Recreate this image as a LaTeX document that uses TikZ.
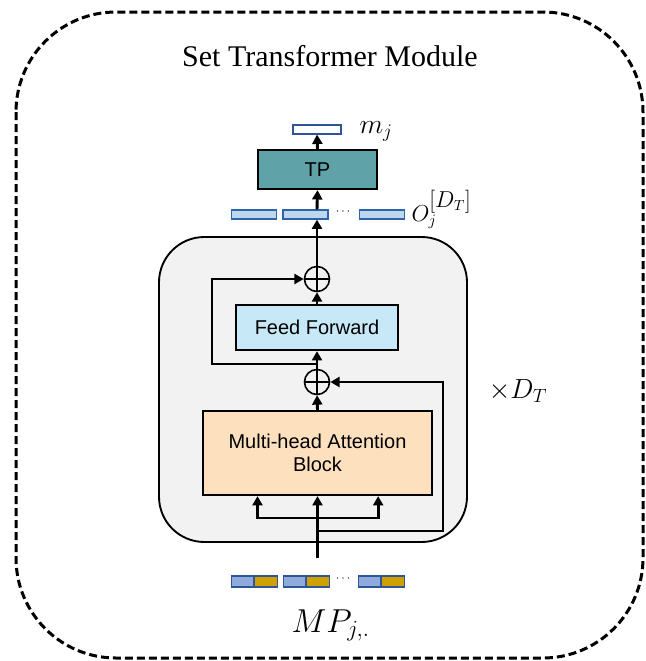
\documentclass[tikz,border=0pt]{standalone}
\usepackage{fontspec}
\setmainfont{Liberation Serif}
\setsansfont{Liberation Sans}
\usetikzlibrary{arrows.meta,positioning}

\definecolor{tpteal}{RGB}{95,163,168}
\definecolor{fffill}{RGB}{198,232,247}
\definecolor{mhafill}{RGB}{253,225,190}
\definecolor{layerfill}{RGB}{242,242,242}
\definecolor{outfill}{RGB}{189,215,238}
\definecolor{outline}{RGB}{46,100,170}
\definecolor{vecline}{RGB}{47,85,151}
\definecolor{inblue}{RGB}{143,170,220}
\definecolor{ingold}{RGB}{207,160,0}

\tikzset{every picture/.style={line width=0.75pt}}
\tikzset{
  flow/.style={line width=2.2pt, -{Triangle[length=7pt,width=7.5pt]}},
  blockbox/.style={draw, line width=1.7pt, align=center, inner sep=0pt,
    font=\sffamily\fontsize{15}{17.5}\selectfont},
  sumnode/.style={circle, draw, line width=1.2pt, minimum size=18.75pt, inner sep=0pt,
    path picture={\draw[line width=1.2pt]
      (path picture bounding box.north) -- (path picture bounding box.south)
      (path picture bounding box.west) -- (path picture bounding box.east);}},
  outvec/.style={draw=outline, fill=outfill, line width=0.9pt,
    minimum width=33.75pt, minimum height=6.75pt, inner sep=0pt},
  inhalf/.style={draw=vecline, line width=0.9pt, minimum height=8.25pt, inner sep=0pt}
}

\begin{document}
\begin{tikzpicture}[x=0.75pt,y=0.75pt,yscale=-1,xscale=1]
        \useasboundingbox (0,0) rectangle (646,661);

        %Shape: Rounded Rect, module frame
        \draw [line width=2.25pt, dash pattern=on 6pt off 3pt, rounded corners=75pt] (16,12) rectangle (643,658);
        % Text Node
        \node (title) at (330,56) {\fontsize{22.5}{27}\selectfont Set Transformer Module};

        %Shape: Rounded Rect, repeated layer
        \draw [fill=layerfill, line width=1.4pt, rounded corners=34pt] (159,237) rectangle (467,542);
        % Text Node
        \node [anchor=west] (repeat) at (484,391) {\fontsize{20}{24}\selectfont $\times D_T$};

        % Blocks
        \node [blockbox, fill=mhafill, minimum width=171.75pt, minimum height=63pt] (mha) at (317.5,453) {Multi-head Attention\\Block};
        \node [sumnode] (lowsum) at (317,382) {};
        \node [blockbox, fill=fffill, minimum width=121.5pt, minimum height=33.75pt] (ff) at (317,327.5) {Feed Forward};
        \node [sumnode] (upsum) at (317,279) {};
        \node [blockbox, fill=tpteal, minimum width=89.25pt, minimum height=29.25pt] (tp) at (317.5,169.5) {TP};

        % Vectors
        \node [inhalf, draw=vecline, fill=white, minimum width=36pt, minimum height=6.75pt] (mvec) at (317,129.5) {};
        \foreach \px [count=\i] in {254,305.5,382}
          \node [outvec] (o\i) at (\px,214.5) {};
        \foreach \px [count=\i] in {231,283,358} {
          \node [inhalf, fill=inblue, minimum width=16.5pt, anchor=west] (in\i a) at (\px,581.5) {};
          \node [inhalf, fill=ingold, minimum width=17.25pt, right=0pt of in\i a] (in\i b) {};
        }
        % Text Node
        \node (odots) at (343,212) {\fontsize{9}{10}\selectfont $\cdots$};
        % Text Node
        \node (indots) at (343,579) {\fontsize{9}{10}\selectfont $\cdots$};

        % Labels
        \node [anchor=base west, inner sep=0pt] (mlabel) at (359,133) {\fontsize{20}{24}\selectfont $m_j$};
        \node [anchor=base west, inner sep=0pt] (olabel) at (411,221) {\fontsize{17}{20}\selectfont $O_j^{\mbox{\fontsize{16}{18}\selectfont$[D_T]$}}$};
        \node [anchor=base west, inner sep=0pt] (mplabel) at (291,632) {\fontsize{24}{28}\selectfont $MP_{j,.}$};

        %Straight Lines, input into attention
        \coordinate (instart) at (317.5,558);
        \coordinate (fork) at (317.5,518);
        \draw [flow] (instart) -- (mha.south);
        \draw [flow] (fork) -| ([xshift=-45pt]mha.south);
        \draw [flow] (fork) -| ([xshift=45.5pt]mha.south);
        %Straight Lines, residual around attention
        \coordinate (skipin) at (317.5,531);
        \coordinate (skipcorner) at (443,531);
        \draw [flow] (skipin) -- (skipcorner) |- (lowsum.east);
        \draw [flow] (mha.north) -- (lowsum.south);
        %Straight Lines, residual around feed forward
        \coordinate (ffin) at (317,364);
        \coordinate (ffcorner) at (212,364);
        \draw [flow] (lowsum.north) -- (ff.south);
        \draw [flow] (ffin) -- (ffcorner) |- (upsum.west);
        \draw [flow] (ff.north) -- (upsum.south);
        %Straight Lines, output
        \draw [flow] (upsum.north) -- (upsum.north |- o2.south);
        \draw [flow] (upsum.north |- o2.north) -- (tp.south);
        \draw [flow] (tp.north) -- (mvec.south);
\end{tikzpicture}
\end{document}
